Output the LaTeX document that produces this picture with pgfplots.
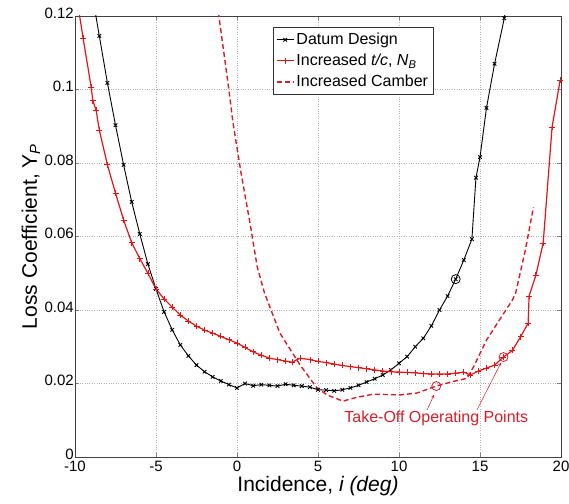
\documentclass[border=0pt]{standalone}
\usepackage{fontspec}
\setmainfont{Liberation Sans}
\usepackage{pgfplots}
\pgfplotsset{compat=1.18}
\definecolor{mred}{RGB}{230,20,20}
\definecolor{dred}{RGB}{215,30,40}
\begin{document}
\begin{tikzpicture}
\useasboundingbox (-75pt,-46pt) rectangle (494pt,457pt);
\begin{axis}[
  at={(0pt,0pt)}, anchor=south west,
  scale only axis, width=486pt, height=441pt,
  xmin=-10, xmax=20, ymin=0, ymax=0.12,
  xtick={-10,-5,...,20}, ytick={0,0.02,...,0.12},
  /pgf/number format/assume math mode=true,
  yticklabel style={/pgf/number format/fixed, /pgf/number format/precision=2, yshift=3pt},
  xticklabel style={yshift=-3pt},
  ticklabel style={font=\fontsize{15}{17}\selectfont, inner sep=1pt},
  grid=major, major grid style={dotted, gray!60, line width=0.5pt},
  tick align=inside, major tick length=4pt,
  axis line style={black!75},
  xlabel={Incidence, \textit{i (deg)}},
  ylabel={Loss Coefficient, Y\textsubscript{\textit{P}}},
  label style={font=\fontsize{21}{24}\selectfont},
  legend style={at={(rel axis cs:0.407,0.975)}, anchor=north west,
    font=\fontsize{16}{19}\selectfont, draw=black!80,
    inner xsep=3pt, inner ysep=2pt, nodes={inner ysep=4pt}},
  legend cell align=left,
  clip=true,
]
\addplot[black, line width=0.9pt, mark=x, mark size=2.5pt, mark options={solid}] coordinates {
(-8.75,0.121)(-8.5,0.1146)(-8.0,0.1018)(-7.5,0.0903)(-7.0,0.0795)(-6.5,0.0694)
(-6.0,0.0607)(-5.5,0.0525)(-5.0,0.0457)(-4.5,0.0395)(-4.0,0.0346)(-3.5,0.0305)
(-3.0,0.0275)(-2.5,0.0250)(-2.0,0.0232)(-1.5,0.0218)(-1.0,0.0207)(-0.5,0.0197)
(0,0.0188)(0.5,0.0200)(1.0,0.0194)(1.5,0.0197)(2.0,0.0195)(2.5,0.0193)
(3.0,0.0198)(3.5,0.0195)(4.0,0.0193)(4.5,0.0190)(5.0,0.0183)(5.5,0.0182)
(6.0,0.0180)(6.5,0.0183)(7.0,0.0188)(7.5,0.0195)(8.0,0.0204)(8.5,0.0213)
(9.0,0.0223)(9.5,0.0237)(10.0,0.0255)(10.5,0.0273)(11.0,0.0300)(11.5,0.0323)
(12.0,0.0357)(12.5,0.0400)(13.0,0.0438)(13.5,0.0484)(14.0,0.0536)(14.5,0.0593)
(14.75,0.0760)(15.0,0.0816)(15.4,0.0950)(15.9,0.1070)(16.5,0.1194)(16.55,0.121)
};
\addlegendentry{Datum Design}
\addplot[color=mred, line width=1.2pt, mark=+, mark size=3pt, mark options={solid, line width=0.8pt, draw=mred}] coordinates {
(-9.75,0.121)(-9.5,0.114)(-9.0,0.1006)(-8.9,0.097)(-8.7,0.0944)(-8.5,0.089)
(-8.0,0.0795)(-7.5,0.0718)(-7.0,0.0645)(-6.5,0.0583)(-6.0,0.0540)(-5.5,0.0500)
(-5.0,0.0457)(-4.5,0.0430)(-4.0,0.0408)(-3.5,0.0386)(-3.0,0.0370)(-2.5,0.0356)
(-2.0,0.0345)(-1.5,0.0337)(-1.0,0.0328)(-0.5,0.0319)(0,0.0310)(0.5,0.0298)
(1.0,0.0286)(1.5,0.0277)(2.0,0.0269)(2.5,0.0265)(3.0,0.0261)(3.4,0.0258)
(3.9,0.0269)(4.5,0.0265)(5.0,0.0260)(5.5,0.0257)(6.0,0.0253)(6.5,0.0249)
(7.0,0.0246)(7.5,0.0243)(8.0,0.0240)(8.5,0.0237)(9.0,0.0234)(9.5,0.0232)
(10.0,0.0231)(10.5,0.0230)(11.0,0.0229)(11.5,0.0227)(12.0,0.0226)(12.5,0.0226)
(13.0,0.0226)(13.5,0.0228)(14.0,0.0231)(14.4,0.0223)(14.9,0.0234)(15.4,0.0242)
(15.9,0.0250)(16.45,0.0272)(17.0,0.0290)(17.5,0.0327)(17.97,0.0364)(18.03,0.0438)
(18.45,0.0495)(18.9,0.0582)(19.45,0.0898)(19.95,0.1026)
};
\addlegendentry{Increased \textit{t/c}, \textit{N}\textsubscript{\textit{B}}}
\addplot[dred, line width=1.4pt, dash pattern=on 5pt off 3pt] coordinates {
(-1.15,0.121)(-0.5,0.0999)(-0.25,0.091)(0.25,0.0773)(0.8,0.0637)(1.25,0.0517)
(1.7,0.0446)(2.65,0.0337)(3.9,0.0250)(4.9,0.0190)(5.55,0.0169)(6.55,0.0152)
(7.0,0.0158)(7.6,0.0164)(8.4,0.0171)(10.1,0.0169)(11.1,0.0174)(12.3,0.0193)
(13.3,0.0205)(14.2,0.0214)(14.6,0.0245)(15.4,0.0318)(16.2,0.0373)(17.0,0.0427)
(17.2,0.0446)(17.8,0.0563)(18.3,0.0680)
};
\addlegendentry{Increased Camber}
\addplot[black, only marks, mark=o, mark size=4.5pt, mark options={line width=0.8pt}, forget plot] coordinates {(13.5,0.0484)};
\addplot[dred, only marks, mark=o, mark size=4.5pt, mark options={line width=0.8pt}, forget plot] coordinates {(12.3,0.0193)(16.45,0.0272)};
\draw[dred, line width=0.5pt, -stealth] (axis cs:11.73,0.0128) -- (axis cs:12.16,0.0169);
\draw[dred, line width=0.5pt, -stealth] (axis cs:14.81,0.0128) -- (axis cs:16.3,0.0257);
\node[dred, font=\fontsize{16}{19}\selectfont] at (axis cs:12.3,0.0106) {Take-Off Operating Points};
\end{axis}
\end{tikzpicture}
\end{document}
